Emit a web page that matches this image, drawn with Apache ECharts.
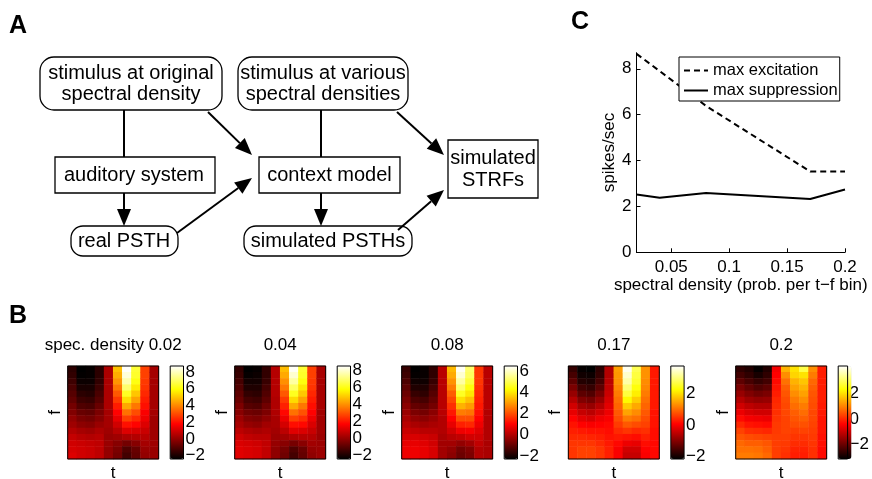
<!DOCTYPE html>
<html>
<head>
<meta charset="utf-8">
<script src="https://cdn.jsdelivr.net/npm/echarts@6/dist/echarts.min.js"></script>
<style>
html, body { margin: 0; padding: 0; background: #fff; }
#chart { width: 872px; height: 479px; }
</style>
</head>
<body>
<div id="chart"></div>
<script>
const FONT = '"Liberation Sans", Arial, Helvetica, sans-serif';

// ---- Panel C: peak excitation / suppression of the simulated STRFs ----
const densities = [0.02, 0.04, 0.08, 0.17, 0.2];
const maxExcitation = [8.65, 7.9, 6.38, 3.52, 3.52];
const maxSuppression = [2.52, 2.38, 2.58, 2.32, 2.74];
const densityTicks = [0.05, 0.1, 0.15, 0.2];
const rateTicks = [0, 2, 4, 6, 8];

// ---- Panel B: simulated STRFs, one array per time bin, frequency bins top to bottom ----
const strfTitles = ['spec. density 0.02', '0.04', '0.08', '0.17', '0.2'];
const colorLimits = [[-2.4, 8.7], [-2.4, 8.5], [-2.3, 6.5], [-2.15, 3.7], [-3.1, 4.1]];
const colorbarTicks = [[-2, 0, 2, 4, 6, 8], [-2, 0, 2, 4, 6, 8], [-2, 0, 2, 4, 6], [-2, 0, 2], [-2, 0, 2]];

const strf002 = [
  [-1.7,-1.6,-1.4,-1.2,-1.0,-0.8,-0.5,-0.3,0.0,0.2,0.5,0.8,1.0,1.1,1.2],
  [-2.4,-2.35,-2.2,-2.0,-1.7,-1.4,-1.1,-0.7,-0.4,-0.1,0.3,0.6,0.9,1.0,1.0],
  [-2.3,-2.3,-2.2,-2.0,-1.8,-1.5,-1.2,-0.8,-0.5,-0.2,0.2,0.5,0.8,0.9,0.9],
  [-1.7,-1.7,-1.6,-1.4,-1.2,-1.0,-0.7,-0.4,-0.2,0.1,0.4,0.6,0.7,0.7,0.7],
  [0.4,0.4,0.4,0.4,0.4,0.4,0.4,0.3,0.3,0.3,0.2,0.1,0.1,0.0,0.0],
  [4.9,4.6,4.2,3.7,3.2,2.7,2.2,1.8,1.4,1.0,0.6,0.2,-0.2,-0.4,-0.5],
  [8.65,8.3,7.8,7.1,6.3,5.4,4.5,3.6,2.8,2.0,1.2,0.4,-0.5,-1.1,-1.3],
  [6.5,6.4,6.1,5.6,5.0,4.4,3.7,3.0,2.4,1.8,1.1,0.5,-0.2,-0.7,-0.8],
  [2.8,2.8,2.7,2.6,2.4,2.2,2.0,1.7,1.5,1.2,0.9,0.6,0.3,0.1,0.0],
  [0.3,0.3,0.3,0.3,0.3,0.3,0.3,0.3,0.2,0.2,0.2,0.2,0.2,0.1,0.1]
];
const strf004 = [
  [-1.6,-1.5,-1.3,-1.1,-0.9,-0.7,-0.4,-0.2,0.1,0.3,0.6,0.9,1.1,1.2,1.2],
  [-2.4,-2.3,-2.1,-1.9,-1.6,-1.3,-1.0,-0.6,-0.3,0.0,0.4,0.7,1.0,1.1,1.1],
  [-2.3,-2.2,-2.1,-1.9,-1.7,-1.4,-1.1,-0.7,-0.4,-0.1,0.3,0.6,0.9,1.0,1.0],
  [-1.6,-1.6,-1.5,-1.3,-1.1,-0.9,-0.6,-0.4,-0.1,0.2,0.4,0.6,0.7,0.7,0.7],
  [0.5,0.5,0.5,0.5,0.5,0.4,0.4,0.4,0.3,0.3,0.2,0.1,0.0,-0.1,-0.1],
  [4.7,4.4,4.0,3.6,3.1,2.6,2.2,1.8,1.4,1.0,0.6,0.2,-0.2,-0.5,-0.6],
  [8.4,8.0,7.5,6.8,6.1,5.2,4.4,3.5,2.7,1.9,1.2,0.4,-0.5,-1.1,-1.3],
  [6.3,6.2,5.9,5.4,4.9,4.3,3.6,3.0,2.4,1.8,1.1,0.5,-0.2,-0.7,-0.8],
  [2.7,2.7,2.6,2.5,2.3,2.1,1.9,1.7,1.4,1.1,0.8,0.5,0.2,0.0,-0.1],
  [0.3,0.3,0.3,0.3,0.3,0.3,0.3,0.2,0.2,0.2,0.2,0.1,0.1,0.1,0.1]
];
const strf008 = [
  [-1.6,-1.5,-1.3,-1.1,-0.9,-0.7,-0.5,-0.3,-0.1,0.1,0.3,0.5,0.7,0.8,0.8],
  [-2.3,-2.25,-2.1,-1.9,-1.6,-1.3,-1.0,-0.7,-0.4,-0.1,0.2,0.5,0.7,0.8,0.8],
  [-2.2,-2.2,-2.1,-1.9,-1.7,-1.4,-1.1,-0.8,-0.5,-0.2,0.1,0.4,0.6,0.7,0.7],
  [-1.7,-1.7,-1.6,-1.4,-1.2,-1.0,-0.8,-0.5,-0.3,-0.1,0.1,0.3,0.4,0.5,0.5],
  [0.1,0.1,0.1,0.1,0.1,0.1,0.1,0.1,0.0,0.0,0.0,-0.1,-0.2,-0.2,-0.2],
  [3.4,3.2,2.9,2.6,2.2,1.9,1.6,1.3,1.0,0.7,0.4,0.1,-0.2,-0.4,-0.5],
  [6.4,6.1,5.7,5.2,4.6,3.9,3.3,2.6,2.0,1.4,0.8,0.2,-0.4,-0.8,-0.9],
  [5.2,5.1,4.8,4.4,4.0,3.5,3.0,2.5,2.0,1.5,0.9,0.4,-0.2,-0.6,-0.7],
  [1.7,1.7,1.7,1.6,1.5,1.4,1.3,1.2,1.0,0.8,0.6,0.4,0.2,0.0,0.0],
  [0.1,0.1,0.1,0.1,0.1,0.1,0.1,0.0,0.0,0.0,0.0,0.0,-0.1,-0.1,-0.1]
];
const strf017 = [
  [-1.7,-1.55,-1.35,-1.1,-0.85,-0.6,-0.35,-0.15,0.05,0.2,0.3,0.4,0.5,0.5,0.5],
  [-2.1,-2.0,-1.85,-1.6,-1.35,-1.05,-0.75,-0.45,-0.2,0.05,0.25,0.4,0.5,0.6,0.6],
  [-2.15,-2.05,-1.9,-1.7,-1.45,-1.15,-0.85,-0.55,-0.3,0.0,0.2,0.35,0.5,0.6,0.6],
  [-1.75,-1.7,-1.55,-1.35,-1.1,-0.85,-0.6,-0.35,-0.1,0.05,0.2,0.3,0.4,0.5,0.5],
  [-0.6,-0.6,-0.55,-0.5,-0.4,-0.3,-0.2,-0.1,0.0,0.1,0.15,0.2,0.25,0.3,0.3],
  [1.4,1.35,1.3,1.2,1.1,1.0,0.9,0.8,0.7,0.55,0.4,0.25,0.1,0.0,0.0],
  [3.6,3.4,3.2,2.9,2.6,2.2,1.8,1.45,1.1,0.8,0.5,0.2,-0.1,-0.35,-0.45],
  [2.7,2.6,2.5,2.3,2.1,1.8,1.5,1.25,1.0,0.7,0.4,0.15,-0.15,-0.35,-0.45],
  [1.3,1.3,1.25,1.2,1.1,1.0,0.9,0.8,0.7,0.6,0.45,0.3,0.15,0.05,0.0],
  [0.25,0.25,0.25,0.25,0.25,0.25,0.25,0.2,0.2,0.2,0.15,0.15,0.1,0.1,0.1]
];
const strf020 = [
  [-2.6,-2.4,-2.1,-1.8,-1.5,-1.2,-0.9,-0.6,-0.3,0.0,0.3,0.5,0.7,0.8,0.9],
  [-2.75,-2.6,-2.35,-2.05,-1.75,-1.45,-1.1,-0.8,-0.5,-0.2,0.1,0.4,0.6,0.8,0.9],
  [-3.05,-2.85,-2.55,-2.25,-1.9,-1.55,-1.2,-0.9,-0.55,-0.25,0.05,0.35,0.6,0.75,0.85],
  [-2.75,-2.6,-2.4,-2.1,-1.8,-1.5,-1.2,-0.9,-0.6,-0.3,0.0,0.3,0.5,0.6,0.7],
  [-0.5,-0.4,-0.3,-0.2,-0.1,0.0,0.05,0.1,0.15,0.2,0.2,0.25,0.25,0.25,0.25],
  [1.5,1.1,0.8,0.6,0.5,0.4,0.35,0.35,0.3,0.3,0.3,0.25,0.2,0.15,0.1],
  [2.0,1.85,1.5,1.3,1.1,0.9,0.75,0.6,0.5,0.4,0.25,0.15,0.05,-0.05,-0.1],
  [2.8,2.0,1.7,1.5,1.3,1.1,0.9,0.75,0.6,0.45,0.3,0.15,0.05,-0.05,-0.1],
  [1.1,0.9,0.7,0.6,0.5,0.45,0.4,0.35,0.35,0.3,0.25,0.2,0.15,0.1,0.1],
  [-0.1,-0.1,-0.1,-0.1,-0.1,-0.1,-0.15,-0.15,-0.2,-0.2,-0.2,-0.25,-0.25,-0.3,-0.3]
];
const strfs = [strf002, strf004, strf008, strf017, strf020];

// "hot" colormap: black -> red -> yellow -> white
const HOT = ['#000000', '#550000', '#aa0000', '#ff0000', '#ff5500', '#ffaa00', '#ffff00', '#ffff80', '#ffffff'];

// layout of panel B
const HM_LEFT = [67.7, 234.7, 401.7, 568.3, 735.7];
const HM_TOP = 366, HM_W = 91, HM_H = 93;
const CB_DX = 102.5, CB_W = 13.3;

const black = '#000';
const txt = (size) => ({ color: black, fontSize: size, fontFamily: FONT });
const minusFmt = (v) => (v < 0 ? '\u2212' + Math.abs(v) : String(v));

const grids = [{ left: 636.5, top: 52.7, width: 208.5, height: 199.6 }];
const xAxes = [{
  gridIndex: 0, type: 'value', min: 0.02, max: 0.2,
  axisLine: { onZero: false, lineStyle: { color: black, width: 1 } },
  axisTick: { inside: true, length: 4, customValues: densityTicks, lineStyle: { color: black } },
  axisLabel: { customValues: densityTicks, formatter: (v) => String(v), margin: 7,
    showMinLabel: true, showMaxLabel: true, ...txt(17) },
  splitLine: { show: false },
  name: 'spectral density (prob. per t\u2212f bin)', nameLocation: 'middle', nameGap: 24,
  nameTextStyle: txt(17)
}];
const yAxes = [{
  gridIndex: 0, type: 'value', min: 0, max: 8.7,
  axisLine: { show: true, onZero: false, lineStyle: { color: black, width: 1 } },
  axisTick: { show: true, inside: true, length: 4, customValues: rateTicks, lineStyle: { color: black } },
  axisLabel: { customValues: rateTicks, margin: 5, showMinLabel: true, showMaxLabel: true, ...txt(17) },
  splitLine: { show: false },
  name: 'spikes/sec', nameLocation: 'middle', nameGap: 10, nameRotate: 90,
  nameTextStyle: txt(17)
}];

const series = [
  {
    name: 'max excitation', type: 'line', xAxisIndex: 0, yAxisIndex: 0,
    data: densities.map((d, i) => [d, maxExcitation[i]]),
    symbol: 'none', color: black,
    lineStyle: { color: black, width: 2, type: [6, 4] }
  },
  {
    name: 'max suppression', type: 'line', xAxisIndex: 0, yAxisIndex: 0,
    data: densities.map((d, i) => [d, maxSuppression[i]]),
    symbol: 'none', color: black,
    lineStyle: { color: black, width: 2 }
  }
];

const timeBins = strf002.map((_, i) => String(i + 1));
const freqBins = strf002[0].map((_, i) => String(i + 1));

// heatmap grids + axes
strfs.forEach((strf, i) => {
  grids.push({ left: HM_LEFT[i], top: HM_TOP, width: HM_W, height: HM_H,
    show: true, borderColor: black, borderWidth: 1, backgroundColor: 'transparent', z: 5 });
  xAxes.push({ gridIndex: 1 + i, type: 'category', data: timeBins,
    axisLine: { show: false }, axisTick: { show: false }, axisLabel: { show: false } });
  yAxes.push({ gridIndex: 1 + i, type: 'category', data: freqBins, inverse: true,
    axisLine: { show: false }, axisTick: { show: false }, axisLabel: { show: false } });
  const cells = [];
  strf.forEach((col, t) => col.forEach((v, f) => cells.push([t, f, v])));
  series.push({ type: 'heatmap', xAxisIndex: 1 + i, yAxisIndex: 1 + i, data: cells,
    itemStyle: { borderWidth: 0 }, emphasis: { disabled: true }, progressive: 0 });
});

// colorbar grids (frame + tick labels); gradient drawn by visualMap.
// Tick labels are split over two stacked axes so close labels are never dropped.
const cbLabelAxis = (gridIndex, lim, values) => ({
  gridIndex, type: 'value', position: 'right', offset: 0,
  min: lim[0], max: lim[1],
  axisLine: { show: false }, axisTick: { show: false }, splitLine: { show: false },
  axisLabel: { customValues: values, formatter: minusFmt, margin: 2,
    showMinLabel: true, showMaxLabel: true, ...txt(17) }
});
strfs.forEach((strf, i) => {
  const g = 6 + i;
  grids.push({ left: HM_LEFT[i] + CB_DX, top: HM_TOP, width: CB_W, height: HM_H,
    show: true, borderColor: black, borderWidth: 1, backgroundColor: 'transparent', z: 10 });
  xAxes.push({ gridIndex: g, type: 'category', data: [''], show: false });
  const ticks = colorbarTicks[i];
  yAxes.push(cbLabelAxis(g, colorLimits[i], ticks.filter((_, k) => k % 2 === 0)));
  yAxes.push(cbLabelAxis(g, colorLimits[i], ticks.filter((_, k) => k % 2 === 1)));
});

const visualMaps = strfs.map((strf, i) => ({
  type: 'continuous', seriesIndex: 2 + i, dimension: 2,
  min: colorLimits[i][0], max: colorLimits[i][1],
  inRange: { color: HOT },
  show: true, calculable: false, hoverLink: false,
  left: HM_LEFT[i] + CB_DX, top: HM_TOP, itemWidth: CB_W, itemHeight: HM_H,
  padding: 0, orient: 'vertical', text: null, textGap: 0
}));

// ---- text elements and panel A flow diagram ----
const graphics = [];
const label = (t, x, y, size, extra) => graphics.push(Object.assign({ type: 'text', x, y, z: 2, style: {
  text: t, fill: black, fontSize: size, fontFamily: FONT, textAlign: 'center', textVerticalAlign: 'middle' } }, extra || {}));
const letter = (t, x, y) => graphics.push({ type: 'text', x, y, style: {
  text: t, fill: black, fontSize: 25, fontWeight: 'bold', fontFamily: FONT,
  textAlign: 'left', textVerticalAlign: 'middle' } });
letter('A', 9, 26);
letter('B', 9, 316);
letter('C', 571, 22);

strfTitles.forEach((t, i) => {
  const cx = HM_LEFT[i] + HM_W / 2;
  label(t, cx, 345, 17);
  label('t', cx, 473, 17);
  label('f', HM_LEFT[i] - 12.5, HM_TOP + HM_H / 2, 17, { rotation: Math.PI / 2 });
});

const boxes = [
  { x: 40, y: 57, w: 182, h: 53, r: 14, cx: 131, lines: ['stimulus at original', 'spectral density'] },
  { x: 238, y: 57, w: 170, h: 53, r: 14, cx: 323, lines: ['stimulus at various', 'spectral densities'] },
  { x: 55, y: 157, w: 160, h: 36, r: 0, cx: 134, lines: ['auditory system'] },
  { x: 259, y: 157, w: 141, h: 36, r: 0, cx: 329.5, lines: ['context model'] },
  { x: 71, y: 226, w: 107, h: 30, r: 12, cx: 124, lines: ['real PSTH'] },
  { x: 244, y: 226, w: 168, h: 30, r: 12, cx: 328, lines: ['simulated PSTHs'] },
  { x: 448, y: 140, w: 90, h: 58, r: 0, cx: 493, lines: ['simulated', 'STRFs'] }
];
boxes.forEach((b) => {
  graphics.push({ type: 'rect', shape: { x: b.x, y: b.y, width: b.w, height: b.h, r: b.r },
    style: { fill: '#fff', stroke: black, lineWidth: 1.3 }, z: 1 });
  const n = b.lines.length, lh = 21.7;
  b.lines.forEach((t, k) => label(t, b.cx, b.y + b.h / 2 + (k - (n - 1) / 2) * lh + 0.5, 20));
});

function connector(x1, y1, x2, y2, head) {
  const dx = x2 - x1, dy = y2 - y1, len = Math.hypot(dx, dy);
  const ux = dx / len, uy = dy / len, HL = 17, HW = 7;
  const ex = head ? x2 - ux * HL : x2, ey = head ? y2 - uy * HL : y2;
  graphics.push({ type: 'line', shape: { x1, y1, x2: ex, y2: ey }, style: { stroke: black, lineWidth: 2 }, z: 1 });
  if (head) graphics.push({ type: 'polygon', z: 1,
    shape: { points: [[x2, y2], [ex - uy * HW, ey + ux * HW], [ex + uy * HW, ey - ux * HW]] },
    style: { fill: black } });
}
connector(124, 110, 124, 157, false);
connector(124, 193, 124, 226, true);
connector(208, 112, 252, 155, true);
connector(177, 233, 252, 178, true);
connector(321, 110, 321, 157, false);
connector(321, 193, 321, 226, true);
connector(397, 112, 444, 155, true);
connector(398, 230, 444, 190, true);

const chart = echarts.init(document.getElementById('chart'), null, { renderer: 'canvas' });
chart.setOption({
  animation: false,
  backgroundColor: '#fff',
  textStyle: { fontFamily: FONT },
  grid: grids,
  xAxis: xAxes,
  yAxis: yAxes,
  visualMap: visualMaps,
  legend: {
    orient: 'vertical', left: 679, top: 57, padding: [5, 2, 2, 4],
    itemWidth: 24, itemHeight: 14, itemGap: 3,
    itemStyle: { opacity: 0 },
    borderColor: black, borderWidth: 1, backgroundColor: '#fff',
    selectedMode: false, textStyle: txt(16.5),
    data: ['max excitation', 'max suppression']
  },
  series,
  graphic: { elements: graphics }
});
</script>
</body>
</html>
